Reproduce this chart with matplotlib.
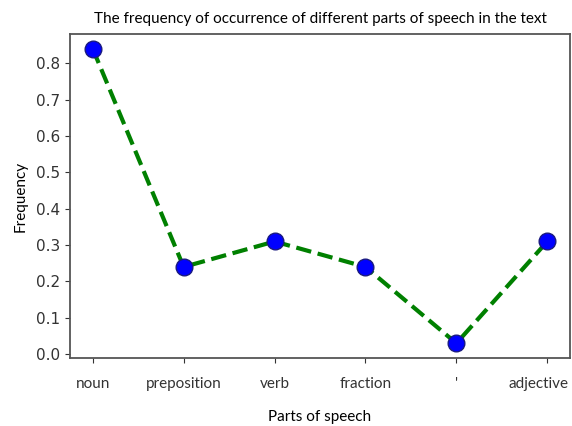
import matplotlib
matplotlib.use("Agg")
import matplotlib.pyplot as plt
import matplotlib.transforms as mtransforms

parts = ["noun", "preposition", "verb", "fraction", "'", "adjective"]
freq = [0.84, 0.24, 0.31, 0.24, 0.03, 0.31]

fig = plt.figure(figsize=(5.72, 4.26), dpi=100)
ax = fig.add_axes([0.1224, 0.1596, 0.8741, 0.7604])

ax.plot(parts, freq, color="green", linestyle="--", linewidth=3,
        marker="o", markersize=12, markerfacecolor="blue",
        markeredgecolor="#1a1a80", markeredgewidth=1)

for side in ["left", "bottom", "right", "top"]:
    ax.spines[side].set_color("#555555")
    ax.spines[side].set_linewidth(1.3)

ax.set_yticks([0.0, 0.1, 0.2, 0.3, 0.4, 0.5, 0.6, 0.7, 0.8])
ax.tick_params(axis="y", labelsize=11, colors="#333333")
ax.tick_params(axis="x", colors="#333333")
ax.xaxis.set_tick_params(pad=10)
fig.canvas.draw()
labels = ax.get_xticklabels()
for lab in labels:
    lab.set_fontfamily("Lato")
    lab.set_fontsize(11)
# last label is nudged left so it stays inside the figure, as in the original
shift = mtransforms.ScaledTranslation(-0.09, 0, fig.dpi_scale_trans)
labels[-1].set_transform(labels[-1].get_transform() + shift)

ax.set_title("The frequency of occurrence of different parts of speech in the text",
             fontsize=11, family="Lato", pad=8)
ax.set_xlabel("Parts of speech", fontsize=11, family="Lato", labelpad=14)
ax.set_ylabel("Frequency", fontsize=11, family="Lato", labelpad=6)

fig.savefig("out.png", dpi=100)
